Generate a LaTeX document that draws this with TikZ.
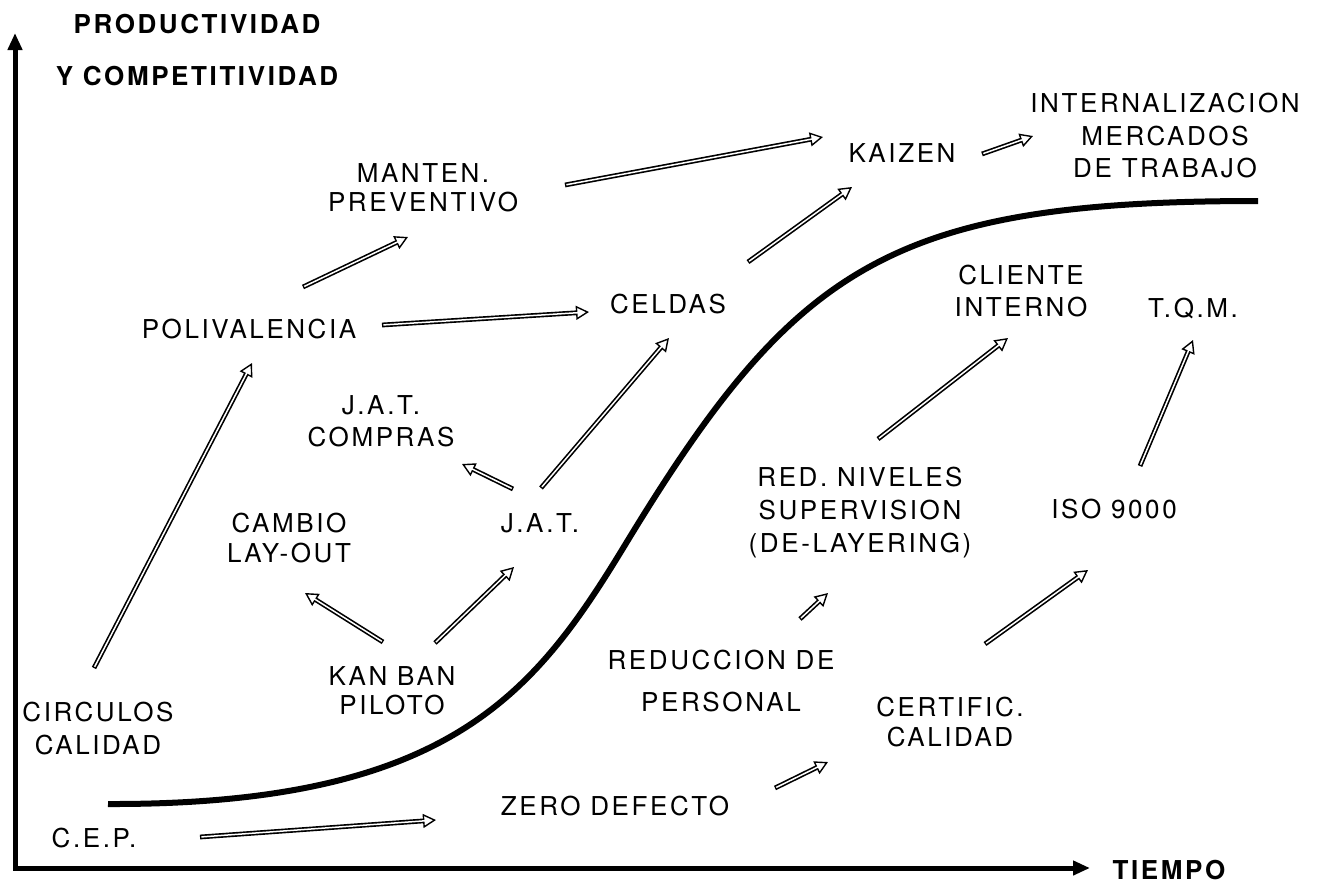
\documentclass[tikz,border=0pt]{standalone}
\usepackage{fontspec}
\usetikzlibrary{arrows.meta}
\newfontfamily\lblf[LetterSpace=10]{TeX Gyre Heros}
\tikzset{
  x=1pt, y=-1pt,
  lbl/.style={inner sep=0pt, align=center, font={\lblf\fontsize{26}{#1}\selectfont}},
  lbl/.default=31,
  ttl/.style={inner sep=0pt, font={\lblf\bfseries\fontsize{26}{31}\selectfont}},
  harrow/.style={line width=4.8pt, line cap=butt,
    -{Triangle[open,length=13pt,width=14pt,line width=1.4pt]},
    postaction={draw=white, line width=1.5pt, -, shorten >=10pt, shorten <=1.4pt}},
  axis/.style={line width=5pt, line join=miter, {Triangle[length=17pt,width=14pt]}-{Triangle[length=17pt,width=14pt]}},
  scurve/.style={line width=6pt, line cap=butt}
}
\begin{document}
\begin{tikzpicture}
\useasboundingbox (0,0) rectangle (1318,884);
% axes
\coordinate (ytip) at (15,33);
\coordinate (xtip) at (1090,868);
\draw[axis] (ytip) |- (xtip);
% S curve
\coordinate (cstart) at (108,804);
\coordinate (cmid) at (625,545);
\coordinate (cend) at (1258,201);
\draw[scurve] (cstart) .. controls (450,805) and (535,693) .. (cmid)
                       .. controls (795,265) and (890,201) .. (cend);
% titles
\node[ttl, anchor=base] (prod) at (197,33) {PRODUCTIVIDAD};
\node[ttl, anchor=base] (comp) at (197,85) {Y COMPETITIVIDAD};
\node[ttl, anchor=base] (tiempo) at (1169,879) {TIEMPO};
% labels
\node[lbl=29, anchor=north] (manten) at (423,163) {MANTEN.\\PREVENTIVO};
\node[lbl=32.5, anchor=north] (intern) at (1165,93) {INTERNALIZACION\\MERCADOS\\DE TRABAJO};
\node[lbl, anchor=base] (kaizen) at (902,162) {KAIZEN};
\node[lbl, anchor=base] (poli) at (249,338) {POLIVALENCIA};
\node[lbl, anchor=base] (celdas) at (668,313) {CELDAS};
\node[lbl=32, anchor=north] (cliente) at (1021,265) {CLIENTE\\INTERNO};
\node[lbl, anchor=base] (tqm) at (1193,317) {T.Q.M.};
\node[lbl=32, anchor=north] (compras) at (381,395) {J.A.T.\\COMPRAS};
\node[lbl=30, anchor=north] (cambio) at (289,513) {CAMBIO\\LAY-OUT};
\node[lbl, anchor=base] (jat) at (540,532) {J.A.T.};
\node[lbl=33, anchor=north] (redniv) at (860,467) {RED. NIVELES\\SUPERVISION\\(DE-LAYERING)};
\node[lbl, anchor=base] (iso) at (1114,518) {ISO 9000};
\node[lbl=42, anchor=north] (reduc) at (721,650) {REDUCCION DE\\PERSONAL};
\node[lbl=29, anchor=north] (kanban) at (392,666) {KAN BAN\\PILOTO};
\node[lbl=30, anchor=north] (certif) at (950,697) {CERTIFIC.\\CALIDAD};
\node[lbl=33, anchor=north] (circ) at (98,702) {CIRCULOS\\CALIDAD};
\node[lbl, anchor=base] (zero) at (615,815) {ZERO DEFECTO};
\node[lbl, anchor=base] (cep) at (94,847) {C.E.P.};
% connectors
\draw[harrow] ([shift={(-4,-34)}]circ.north) -- ([shift={(3,25)}]poli.base);
\draw[harrow] ([shift={(54,-51)}]poli.base) -- ([shift={(-15,74)}]manten.north);
\draw[harrow] ([shift={(133,-13)}]poli.base) -- ([shift={(-79,-1)}]celdas.base);
\draw[harrow] ([shift={(142,22)}]manten.north) -- ([shift={(-79,-25)}]kaizen.base);
\draw[harrow] ([shift={(80,-51)}]celdas.base) -- ([shift={(-50,25)}]kaizen.base);
\draw[harrow] ([shift={(80,-8)}]kaizen.base) -- ([shift={(-132,43)}]intern.north);
\draw[harrow] ([shift={(1,-44)}]jat.base) -- ([shift={(1,25)}]celdas.base);
\draw[harrow] ([shift={(-27,-43)}]jat.base) -- ([shift={(81,69)}]compras.north);
\draw[harrow] ([shift={(-9,-24)}]kanban.north) -- ([shift={(16,80)}]cambio.north);
\draw[harrow] ([shift={(43,-23)}]kanban.north) -- ([shift={(-26,35)}]jat.base);
\draw[harrow] ([shift={(79,-31)}]reduc.north) -- ([shift={(-32,126)}]redniv.north);
\draw[harrow] ([shift={(18,-28)}]redniv.north) -- ([shift={(-13,73)}]cliente.north);
\draw[harrow] ([shift={(26,-52)}]iso.base) -- ([shift={(0,23)}]tqm.base);
\draw[harrow] ([shift={(35,-53)}]certif.north) -- ([shift={(-26,52)}]iso.base);
\draw[harrow] ([shift={(160,-27)}]zero.base) -- ([shift={(-122,65)}]certif.north);
\draw[harrow] ([shift={(106,-10)}]cep.base) -- ([shift={(-179,5)}]zero.base);
\end{tikzpicture}
\end{document}
